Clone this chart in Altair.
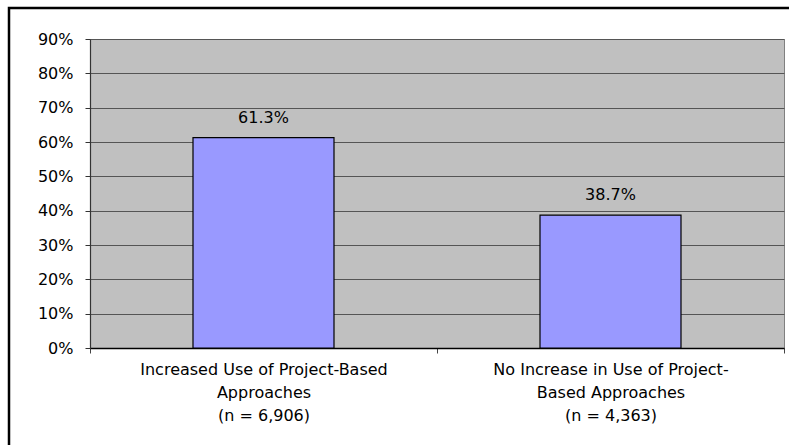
import altair as alt
import pandas as pd

categories = [
    "Increased Use of Project-Based|Approaches|(n = 6,906)",
    "No Increase in Use of Project-|Based Approaches|(n = 4,363)",
]
values = [0.613, 0.387]
y_ticks = [0, 0.1, 0.2, 0.3, 0.4, 0.5, 0.6, 0.7, 0.8, 0.9]

df = pd.DataFrame({"category": categories, "value": values})

FONT = "DejaVu Sans"
FS = 16

base = alt.Chart(df)

x_enc = alt.X(
    "category:N",
    sort=categories,
    scale=alt.Scale(paddingInner=0, paddingOuter=0),
    axis=alt.Axis(
        title=None,
        labelAngle=0,
        labelExpr="split(datum.label, '|')",
        labelFont=FONT,
        labelFontSize=FS,
        labelColor="black",
        labelLineHeight=23,
        labelPadding=8,
        labelBaseline="top",
        labelLimit=0,
        labelOverlap=False,
        tickBand="extent",
        tickSize=5,
        tickColor="#444444",
        domainColor="black",
        domainWidth=1.5,
        grid=False,
    ),
)

y_enc = alt.Y(
    "value:Q",
    scale=alt.Scale(domain=[0, 0.9], nice=False),
    axis=alt.Axis(
        title=None,
        values=y_ticks,
        tickCount=10,
        format=".0%",
        labelFont=FONT,
        labelFontSize=FS,
        labelColor="black",
        labelPadding=12,
        labelOverlap=False,
        labelFlush=False,
        tickSize=5,
        tickColor="#333333",
        domainColor="#333333",
        domainWidth=1.2,
        grid=True,
        gridColor="#555555",
        gridWidth=1,
    ),
)

bars = base.mark_bar(
    size=141, color="#9999FF", stroke="black", strokeWidth=1.2
).encode(x=x_enc, y=y_enc)

labels = base.mark_text(
    font=FONT, fontSize=FS, color="black", baseline="middle", dy=-20
).encode(
    x=x_enc,
    y=y_enc,
    text=alt.Text("value:Q", format=".1%"),
)

frame_data = pd.DataFrame({"x": [0], "y": [0]})
frame = alt.Chart(frame_data).mark_rect(
    fill=None, stroke="black", strokeWidth=2.5, clip=False
).encode(
    x=alt.value(-81), x2=alt.value(760),
    y=alt.value(-31), y2=alt.value(460),
)

chart = alt.layer(bars, labels, frame).properties(
    width=694,
    height=309,
    autosize=alt.AutoSizeParams(type="none"),
    padding={"left": 90, "top": 39, "right": 5, "bottom": 97},
    background="white",
).configure_view(
    fill="#C0C0C0", stroke="#808080", strokeWidth=1
)

chart.save("out.html", embed_options={"renderer": "svg", "actions": False})
